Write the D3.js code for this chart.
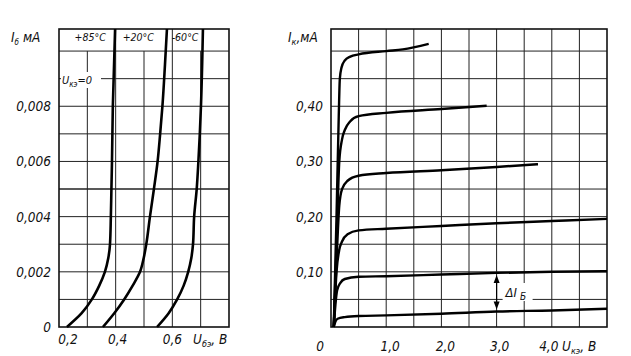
<!DOCTYPE html>
<html><head><meta charset="utf-8">
<script src="https://cdn.jsdelivr.net/npm/d3@7/dist/d3.min.js"></script>
<style>
body{margin:0;background:#fff;}
svg text{font-family:"Liberation Sans Narrow","DejaVu Sans Condensed","Liberation Sans",sans-serif;font-style:italic;fill:#111;}
</style></head><body>
<svg id="c" width="631" height="356"></svg>
<script>
// ---- Left panel: input characteristics I_b(U_be) ----
const tempLabels = ["+85°C", "+20°C", "-60°C"];
const ubeTicks = [0.2, 0.4, 0.6];
const ubeTickLabels = ["0,2", "0,4", "0,6"];
const ibTicks = [0, 0.002, 0.004, 0.006, 0.008];
const ibTickLabels = ["0", "0,002", "0,004", "0,006", "0,008"];
const curve85 = [[0.228,0],[0.28,0.0005],[0.316,0.001],[0.342,0.0015],[0.362,0.002],[0.374,0.0025],[0.38,0.003],[0.383,0.004],[0.385,0.005],[0.387,0.006],[0.39,0.008],[0.398,0.0108]];
const curve20 = [[0.355,0],[0.395,0.0005],[0.43,0.001],[0.46,0.0015],[0.486,0.002],[0.499,0.0025],[0.508,0.003],[0.521,0.004],[0.535,0.005],[0.548,0.006],[0.557,0.007],[0.565,0.008],[0.574,0.0095],[0.581,0.0108]];
const curveM60 = [[0.546,0],[0.587,0.0005],[0.617,0.001],[0.64,0.0015],[0.656,0.002],[0.667,0.0025],[0.673,0.003],[0.677,0.004],[0.686,0.005],[0.692,0.006],[0.697,0.007],[0.701,0.008],[0.708,0.0108]];

// ---- Right panel: output characteristics I_k(U_ke) ----
const ukeTicks = [1, 2, 3, 4];
const ukeTickLabels = ["1,0", "2,0", "3,0", "4,0"];
const ikTicks = [0.1, 0.2, 0.3, 0.4];
const ikTickLabels = ["0,10", "0,20", "0,30", "0,40"];
const ik1 = [[0.05,0],[0.08,0.01],[0.12,0.015],[0.25,0.018],[0.5,0.02],[1,0.021],[2,0.024],[3,0.028],[4,0.03],[5,0.033]];
const ik2 = [[0.05,0],[0.08,0.04],[0.11,0.066],[0.17,0.08],[0.25,0.087],[0.5,0.091],[1,0.092],[2,0.095],[3,0.098],[4,0.1],[5,0.101]];
const ik3 = [[0.05,0],[0.1,0.1],[0.15,0.14],[0.2,0.155],[0.3,0.168],[0.5,0.175],[1,0.178],[2,0.183],[3,0.188],[4,0.192],[5,0.196]];
const ik4 = [[0.05,0],[0.1,0.12],[0.15,0.22],[0.2,0.25],[0.3,0.265],[0.5,0.274],[1,0.279],[2,0.284],[3,0.29],[3.75,0.295]];
const ik5 = [[0.05,0],[0.1,0.15],[0.15,0.3],[0.2,0.34],[0.25,0.357],[0.35,0.373],[0.5,0.382],[1,0.388],[2,0.395],[2.82,0.401]];
const ik6 = [[0.05,0],[0.1,0.2],[0.14,0.38],[0.16,0.45],[0.19,0.47],[0.25,0.483],[0.35,0.49],[0.5,0.494],[1,0.5],[1.3,0.503],[1.77,0.513]];
const deltaAt = 3.0;

const svg = d3.select("#c");
const plotTop = 29, plotBottom = 327;

// ===== Left panel =====
const xL = d3.scaleLinear().domain([0.2, 0.8]).range([59, 229]);
const yL = d3.scaleLinear().domain([0, 0.0108]).range([plotBottom, plotTop]);
const gL = svg.append("g");
d3.range(1, 11).forEach(i => {
  const v = i * 0.001;
  gL.append("line").attr("x1", xL(0.2)).attr("x2", xL(0.8)).attr("y1", yL(v)).attr("y2", yL(v))
    .attr("stroke", "#222").attr("stroke-width", i === 5 ? 1.6 : 1);
});
d3.range(1, 6).forEach(i => {
  const v = 0.2 + i * 0.1;
  const full = (i === 2 || i === 4);
  gL.append("line").attr("x1", xL(v)).attr("x2", xL(v))
    .attr("y1", full ? yL(0.0108) : yL(0.010)).attr("y2", yL(0))
    .attr("stroke", "#222").attr("stroke-width", 1);
});
gL.append("rect").attr("x", xL(0.2)).attr("y", plotTop).attr("width", xL(0.8) - xL(0.2)).attr("height", plotBottom - plotTop)
  .attr("fill", "none").attr("stroke", "#111").attr("stroke-width", 1.6);
gL.append("rect").attr("x", 61).attr("y", 72).attr("width", 40).attr("height", 16).attr("fill", "#fff");
const uk0 = gL.append("text").attr("x", 62).attr("y", 84).attr("font-size", 11);
uk0.append("tspan").text("U");
uk0.append("tspan").attr("font-size", 8).attr("dy", 3).text("кэ");
uk0.append("tspan").attr("dy", -3).text("=0");
const lineL = d3.line().x(d => xL(d[0])).y(d => yL(d[1])).curve(d3.curveMonotoneY);
[curve85, curve20, curveM60].forEach(c => {
  gL.append("path").attr("d", lineL(c)).attr("fill", "none").attr("stroke", "#000").attr("stroke-width", 2.6);
});
const tempPos = [0.31, 0.48, 0.645];
tempLabels.forEach((t, i) => {
  gL.append("text").attr("x", xL(tempPos[i])).attr("y", 41).attr("text-anchor", "middle")
    .attr("font-size", 10.5).text(t);
});
ibTicks.forEach((v, i) => {
  gL.append("text").attr("x", 51).attr("y", yL(v) + 5).attr("text-anchor", "end").attr("font-size", 13.5).text(ibTickLabels[i]);
});
const ubeDx = [9, 2, 0];
ubeTicks.forEach((v, i) => {
  gL.append("text").attr("x", xL(v) + ubeDx[i]).attr("y", 344).attr("text-anchor", "middle").attr("font-size", 13.5).text(ubeTickLabels[i]);
});
const ubeLab = gL.append("text").attr("x", 193).attr("y", 344).attr("font-size", 13.5);
ubeLab.append("tspan").text("U");
ubeLab.append("tspan").attr("font-size", 9).attr("dy", 3).text("бэ");
ubeLab.append("tspan").attr("dy", -3).text(", В");
const ibLab = gL.append("text").attr("x", 11).attr("y", 42).attr("font-size", 13.5);
ibLab.append("tspan").text("I");
ibLab.append("tspan").attr("font-size", 8).attr("dy", 3).text("б");
ibLab.append("tspan").attr("dy", -3).text(" мА");

// ===== Right panel =====
const xR = d3.scaleLinear().domain([0, 5]).range([331, 607]);
const yR = d3.scaleLinear().domain([0, 0.54]).range([plotBottom, plotTop]);
const gR = svg.append("g");
d3.range(1, 11).forEach(i => {
  const v = i * 0.05;
  gR.append("line").attr("x1", xR(0)).attr("x2", xR(5)).attr("y1", yR(v)).attr("y2", yR(v))
    .attr("stroke", "#222").attr("stroke-width", 1);
});
d3.range(1, 10).forEach(i => {
  const v = i * 0.5;
  gR.append("line").attr("x1", xR(v)).attr("x2", xR(v)).attr("y1", yR(0.54)).attr("y2", yR(0))
    .attr("stroke", "#222").attr("stroke-width", 1);
});
gR.append("rect").attr("x", xR(0)).attr("y", plotTop).attr("width", xR(5) - xR(0)).attr("height", plotBottom - plotTop)
  .attr("fill", "none").attr("stroke", "#111").attr("stroke-width", 1.6);
const lineR = d3.line().x(d => xR(d[0])).y(d => yR(d[1])).curve(d3.curveMonotoneX);
[ik1, ik2, ik3, ik4, ik5, ik6].forEach(c => {
  gR.append("path").attr("d", lineR(c)).attr("fill", "none").attr("stroke", "#000").attr("stroke-width", 2.4);
});
const interp = (c, x) => { for (let i = 1; i < c.length; i++) { if (c[i][0] >= x) { const a = c[i-1], b = c[i]; return a[1] + (b[1]-a[1])*(x-a[0])/(b[0]-a[0]); } } return c[c.length-1][1]; };
const aTop = yR(interp(ik2, deltaAt)) + 2, aBot = yR(interp(ik1, deltaAt)) - 2;
const ax = xR(deltaAt);
gR.append("line").attr("x1", ax).attr("x2", ax).attr("y1", aTop + 6).attr("y2", aBot - 6).attr("stroke", "#000").attr("stroke-width", 1.2);
gR.append("path").attr("d", `M${ax},${aTop} L${ax-3},${aTop+8} L${ax+3},${aTop+8} Z`).attr("fill", "#000");
gR.append("path").attr("d", `M${ax},${aBot} L${ax-3},${aBot-8} L${ax+3},${aBot-8} Z`).attr("fill", "#000");
gR.append("rect").attr("x", ax + 6).attr("y", 283).attr("width", 30).attr("height", 18).attr("fill", "#fff");
const dl = gR.append("text").attr("x", ax + 9).attr("y", 297).attr("font-size", 13);
dl.append("tspan").text("ΔI");
dl.append("tspan").attr("font-size", 10).attr("dx", 3).attr("dy", 3).text("Б");
ikTicks.forEach((v, i) => {
  gR.append("text").attr("x", 323).attr("y", yR(v) + 5).attr("text-anchor", "end").attr("font-size", 13.5).text(ikTickLabels[i]);
});
gR.append("text").attr("x", 320).attr("y", 351).attr("text-anchor", "middle").attr("font-size", 13.5).text("0");
const ukeDx = [4, 4, 3, -3];
ukeTicks.forEach((v, i) => {
  gR.append("text").attr("x", xR(v) + ukeDx[i]).attr("y", 351).attr("text-anchor", "middle").attr("font-size", 13.5).text(ukeTickLabels[i]);
});
const ukeLab = gR.append("text").attr("x", 562).attr("y", 351).attr("font-size", 13.5);
ukeLab.append("tspan").text("U");
ukeLab.append("tspan").attr("font-size", 9).attr("dy", 3).text("кэ");
ukeLab.append("tspan").attr("dy", -3).text(", В");
const ikLab = gR.append("text").attr("x", 288).attr("y", 42).attr("font-size", 13.5);
ikLab.append("tspan").text("I");
ikLab.append("tspan").attr("font-size", 9).attr("dy", 3).text("к");
ikLab.append("tspan").attr("dy", -3).text(",мА");
</script>
</body></html>
